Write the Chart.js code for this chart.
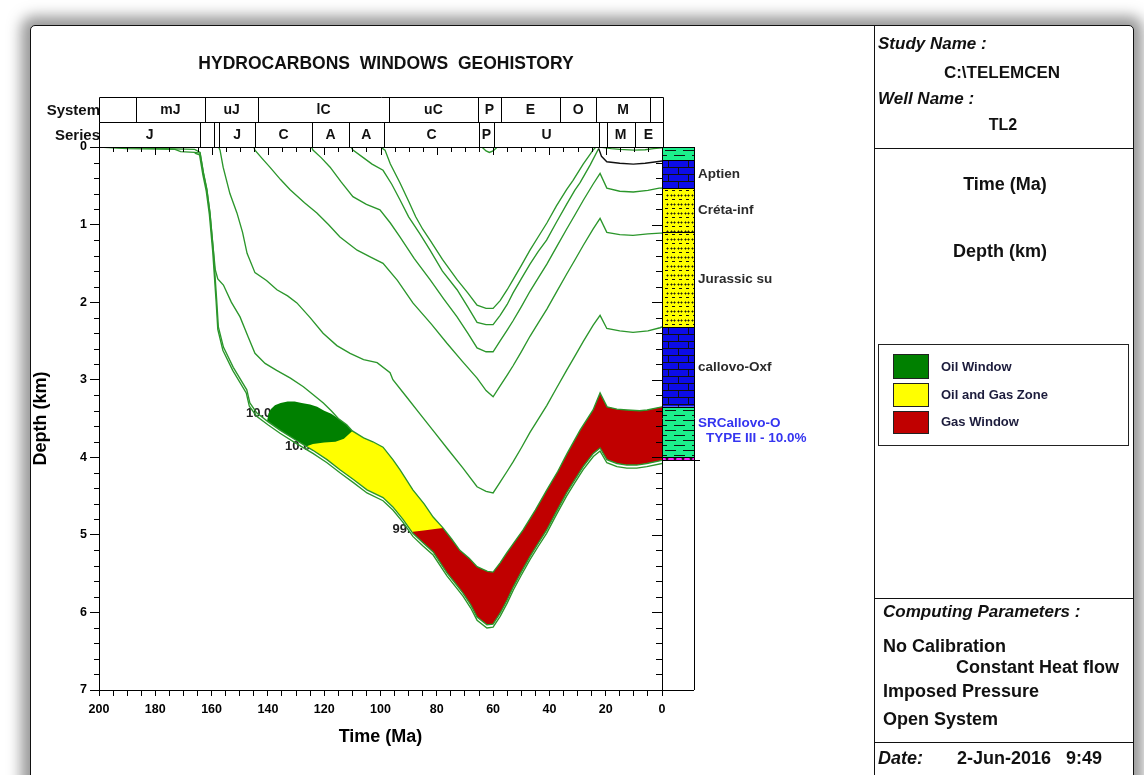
<!DOCTYPE html>
<html>
<head>
<meta charset="utf-8">
<title>Hydrocarbons windows geohistory - TL2</title>
<script src="https://cdn.jsdelivr.net/npm/chart.js@4.4.1/dist/chart.umd.min.js"></script>
<style>
  html, body { margin: 0; padding: 0; background: #fff; width: 1144px; height: 775px; overflow: hidden;
               font-family: 'Liberation Sans', Arial, sans-serif; }
  #frame { position: absolute; left: 30px; top: 25px; width: 1102px; height: 780px; border: 1.5px solid #111;
           background: #fff; box-shadow: 0 0 14px 9px rgba(85,85,85,0.6); border-radius: 5px; }
  #c { position: absolute; left: 0; top: 0; }
  .t { position: absolute; white-space: pre; font-weight: bold; color: #111; line-height: 1; transform: translate(0, -50%); }
  .c { transform: translate(-50%, -50%); }
  .i { font-style: italic; }
  .hl { position: absolute; left: 874px; height: 0; border-top: 1.5px solid #111; }
  .sw { position: absolute; left: 893px; width: 34px; border: 1px solid #222; }
</style>
</head>
<body>
<div id="frame"></div>
<canvas id="c" width="1144" height="775"></canvas>

<div class="t c" style="left:386px; top:64px; font-size:17.5px;">HYDROCARBONS  WINDOWS  GEOHISTORY</div>

<!-- side panel -->
<div style="position:absolute; left:874px; top:25px; width:0; height:760px; border-left:1.5px solid #111;"></div>
<div class="hl" style="top:148px; width:259px;"></div>
<div class="hl" style="top:598px; width:259px;"></div>
<div class="hl" style="top:742px; width:259px;"></div>

<div class="t i" style="left:878px; top:43px; font-size:17px;">Study Name :</div>
<div class="t c" style="left:1002px; top:72px; font-size:17px;">C:\TELEMCEN</div>
<div class="t i" style="left:878px; top:98px; font-size:17px;">Well Name :</div>
<div class="t c" style="left:1003px; top:125px; font-size:16px;">TL2</div>

<div class="t c" style="left:1005px; top:184px; font-size:18px;">Time (Ma)</div>
<div class="t c" style="left:1000px; top:251px; font-size:18px;">Depth (km)</div>

<div style="position:absolute; left:878px; top:344px; width:249px; height:100px; border:1.5px solid #222;"></div>
<div class="sw" style="top:354px; height:23px; background:#008000;"></div>
<div class="sw" style="top:383px; height:22px; background:#ffff00;"></div>
<div class="sw" style="top:411px; height:21px; background:#c00000;"></div>
<div class="t" style="left:941px; top:366px; font-size:13px; color:#1c1c3c;">Oil Window</div>
<div class="t" style="left:941px; top:394px; font-size:13px; color:#1c1c3c;">Oil and Gas Zone</div>
<div class="t" style="left:941px; top:421px; font-size:13px; color:#1c1c3c;">Gas Window</div>

<div class="t i" style="left:883px; top:611px; font-size:17px;">Computing Parameters :</div>
<div class="t" style="left:883px; top:646px; font-size:18px;">No Calibration</div>
<div class="t" style="left:956px; top:667px; font-size:18px;">Constant Heat flow</div>
<div class="t" style="left:883px; top:691px; font-size:18px;">Imposed Pressure</div>
<div class="t" style="left:883px; top:719px; font-size:18px;">Open System</div>
<div class="t i" style="left:878px; top:758px; font-size:18px;">Date:</div>
<div class="t" style="left:957px; top:758px; font-size:18px;">2-Jun-2016   9:49</div>

<script>
// ---- Stratigraphic chart above the plot (ages in Ma) ----
const systemBounds = [200, 187, 162.3, 143.5, 97, 65.4, 57.2, 36.2, 23.4, 4.3, 0];
const systemNames  = ['', 'mJ', 'uJ', 'lC', 'uC', 'P', 'E', 'O', 'M', ''];
const seriesBounds = [200, 164.1, 159.3, 157.2, 144.6, 124.3, 111.2, 98.8, 65.0, 59.7, 22.4, 19.7, 9.7, 0];
const seriesNames  = ['J', '', '', 'J', 'C', 'A', 'A', 'C', 'P', 'U', '', 'M', 'E'];

// ---- Present-day lithology column (depth in km) ----
const lithoTops   = [0, 0.17, 0.53, 1.10, 2.32, 3.35, 4.00];
const lithoBases  = [0.17, 0.53, 1.10, 2.32, 3.35, 4.00, 4.04];
const lithoTypes  = ['shale', 'limestone', 'sandshale', 'sandshale', 'limestone', 'shale', 'marl'];
const lithoNames  = ['', 'Aptien', 'Créta-inf', 'Jurassic su', 'callovo-Oxf', 'SRCallovo-O', ''];
const sourceRockNote = 'TYPE III - 10.0%';

// ---- Burial curves: [age Ma, depth km] ----
const surfaceLine = [[200,0],[64,0],[62.5,0.05],[61.3,0.07],[60,0.05],[58.5,0],[22,0],[18,0.02],[15,0.03],[10,0.04],[6,0.035],[3,0.02],[0,0.01]];

const horizonAlbianTop = [[100,0],[98.4,0.04],[96.5,0.22],[93.1,0.46],[90,0.70],[87.5,0.90],[85,1.06],[82.4,1.20],
  [78,1.45],[72.8,1.71],[69,1.88],[65.7,2.04],[62.5,2.08],[60,2.08],[57.5,1.98],[55,1.84],[52.9,1.71],[50,1.53],
  [46.9,1.33],[44,1.16],[40.9,0.98],[37.5,0.76],[33.9,0.55],[31.6,0.43],[28,0.22],[24.5,0.04],[23.5,0]];

const horizonAptienTop = [[110.5,0],[109.8,0.04],[106,0.14],[103,0.22],[99.1,0.30],[96,0.48],[93.1,0.68],[90,0.90],
  [86,1.12],[82.4,1.33],[78,1.60],[72.8,1.84],[69,2.06],[65.7,2.26],[62.5,2.29],[60,2.29],[57.5,2.17],[55,2.03],
  [52.9,1.88],[50,1.70],[46.9,1.51],[44,1.35],[41,1.20],[37.5,0.97],[33.9,0.74],[31,0.56],[29.1,0.46],[25.5,0.23],
  [22.5,0.02],[21.5,0.12],[19.6,0.19],[15,0.21],[10.2,0.22],[6,0.21],[1.9,0.19],[0,0.18]];
const erosionAge = 22.5;

const horizonCretaInfTop = [[124.5,0],[124,0.04],[121,0.14],[117.9,0.26],[114,0.45],[109.8,0.64],[105,0.74],
  [100.2,0.81],[96.5,0.98],[93.1,1.16],[88,1.44],[82.4,1.71],[77.5,1.96],[72.8,2.19],[69,2.40],[65.7,2.59],
  [62.5,2.64],[60,2.64],[57.5,2.50],[55,2.36],[52.9,2.24],[50,2.06],[46.9,1.86],[44,1.69],[40.9,1.51],[37.5,1.29],
  [33.9,1.06],[31,0.88],[28,0.69],[24.5,0.48],[22,0.34],[19.6,0.53],[15,0.57],[10.2,0.58],[5,0.56],[1,0.53],[0,0.53]];

const horizonJurassicSuTop = [[145,0],[144.6,0.04],[142,0.15],[139.3,0.26],[135.5,0.42],[132.1,0.55],[127,0.72],
  [122.6,0.85],[118.5,1.00],[114.4,1.16],[108.3,1.33],[103.5,1.42],[99.1,1.50],[94,1.72],[88.5,2.01],[82,2.28],
  [76.4,2.53],[71,2.76],[65.7,2.98],[62.5,3.14],[60,3.22],[57.5,3.08],[55,2.94],[52.9,2.82],[50,2.64],[46.9,2.44],
  [44,2.27],[40.9,2.09],[37.5,1.87],[33.9,1.64],[31,1.46],[28,1.27],[24.5,1.06],[22,0.92],[19.6,1.10],[15,1.13],
  [10.3,1.14],[5,1.12],[0.7,1.11],[0,1.11]];

const horizonCallovoOxfTop = [[157.5,0],[157,0.04],[155.9,0.26],[153.5,0.60],[151,0.85],[149,1.10],[147.4,1.37],
  [144.6,1.62],[140.5,1.72],[136.8,1.84],[133,1.92],[129.7,2.01],[125,2.20],[120.4,2.40],[115.5,2.56],[110.8,2.66],
  [106,2.74],[101.2,2.78],[96.6,2.91],[95.6,3.00],[91,3.21],[86,3.44],[81,3.67],[76,3.90],[70.7,4.14],[65.7,4.38],
  [62.5,4.44],[60,4.46],[57.5,4.32],[55,4.18],[52.9,4.06],[50,3.88],[46.9,3.68],[44,3.51],[40.9,3.33],[37.5,3.11],
  [33.9,2.88],[31,2.70],[28,2.51],[24.5,2.30],[22,2.17],[19.6,2.34],[15,2.37],[10.3,2.39],[5,2.37],[0.7,2.33],[0,2.32]];

const horizonSourceRockTop = [[200,0],[166,0.03],[164.1,0.07],[162.9,0.33],[161.7,0.54],[160.6,0.84],[159.4,1.32],
  [158.7,1.58],[157.8,1.70],[155.8,1.78],[153,2.00],[149.9,2.19],[147,2.45],[144.6,2.66],[141,2.79],[136.9,2.88],
  [132,2.98],[127.4,3.09],[124,3.19],[120.3,3.30],[117.5,3.40],[115,3.50],[112,3.58],[110,3.66],[106,3.75],
  [102.7,3.80],[99.1,3.87],[95.6,4.03],[93.1,4.16],[88.5,4.42],[84.5,4.60],[81.3,4.77],[77.8,4.91],[74.8,5.05],
  [71.8,5.20],[68.5,5.30],[65.7,5.41],[62,5.47],[60,5.48],[57.5,5.36],[55.1,5.23],[52,5.07],[49.4,4.94],[45,4.68],
  [40.9,4.42],[37,4.18],[33.7,3.95],[29.1,3.65],[24.5,3.39],[22,3.17],[19.5,3.35],[16,3.38],[12.4,3.39],[8,3.40],
  [5.3,3.39],[0,3.35]];

const horizonSourceRockBase = [[200,0],[190,0.02],[173,0.03],[171,0.06],[166,0.07],[164.1,0.08],[162.9,0.34],
  [161.7,0.55],[160.6,0.85],[159.4,1.33],[158.2,1.97],[157.6,2.32],[155.8,2.58],[152.3,2.84],[147.5,3.13],
  [146.4,3.30],[143.9,3.43],[140,3.54],[135.7,3.65],[130,3.78],[124,3.91],[119,4.03],[114.4,4.16],[109.5,4.29],
  [104.8,4.42],[99.1,4.52],[95.6,4.64],[92,4.80],[88.5,4.98],[85,5.10],[81.3,5.22],[76.4,5.49],[73.5,5.62],
  [70.7,5.75],[68,5.90],[65.7,6.06],[62.2,6.16],[60,6.15],[57.5,6.01],[55,5.84],[52.8,5.67],[50,5.48],[46.9,5.28],
  [44,5.11],[41,4.94],[37.5,4.70],[33.9,4.46],[31,4.29],[28,4.12],[24.4,3.95],[22,3.88],[19.6,4.03],[16,4.08],
  [12.5,4.10],[9,4.10],[5.4,4.08],[0,4.04]];

const horizonMarlBase = [[166,0.08],[164.3,0.10],[163.1,0.36],[161.9,0.57],[160.8,0.87],[159.6,1.35],[158.4,1.99],
  [157.8,2.35],[156,2.62],[152.5,2.88],[147.7,3.17],[146.6,3.34],[144,3.47],[140,3.58],[135.7,3.69],[130,3.82],
  [124,3.95],[119,4.07],[114.4,4.20],[109.5,4.33],[104.8,4.46],[99.1,4.56],[95.6,4.68],[92,4.84],[88.5,5.02],
  [85,5.14],[81.3,5.26],[76.4,5.53],[73.5,5.66],[70.7,5.79],[68,5.94],[65.7,6.10],[62.2,6.20],[60,6.19],[57.5,6.05],
  [55,5.88],[52.8,5.71],[50,5.52],[46.9,5.32],[44,5.15],[41,4.98],[37.5,4.74],[33.9,4.50],[31,4.33],[28,4.16],
  [24.4,3.99],[22,3.92],[19.6,4.07],[16,4.12],[12.5,4.14],[9,4.14],[5.4,4.12],[0,4.08]];

// ---- Maturity zones of the source rock (upper limits; lower limit is the source-rock base) ----
const oilWindowTop = [[140.3,3.53],[139.8,3.44],[139,3.38],[137.5,3.33],[135.5,3.30],[133,3.28],[130.5,3.28],
  [128,3.30],[125,3.32],[122.5,3.35],[120,3.40],[117.5,3.44],[115,3.50],[112,3.58],[110,3.66],[109,3.68]];
const oilGasZoneTop = [[126.5,3.86],[124,3.83],[120,3.81],[116,3.80],[113,3.76],[110,3.66],[106,3.75],[102.7,3.80],
  [99.1,3.87],[95.6,4.03],[93.1,4.16],[88.5,4.42],[84.5,4.60],[81.3,4.77],[77.8,4.91]];
const gasWindowTop = [[88.5,4.96],[84,4.94],[80,4.92],[77.8,4.91],[74.8,5.05],[71.8,5.20],[68.5,5.30],[65.7,5.41],
  [62,5.47],[60,5.48],[57.5,5.36],[55.1,5.23],[52,5.07],[49.4,4.94],[45,4.68],[40.9,4.42],[37,4.18],[33.7,3.95],
  [29.1,3.65],[24.5,3.39],[22,3.17],[19.5,3.35],[16,3.38],[12.4,3.39],[8,3.40],[5.3,3.39],[0,3.35]];

// Transformation-ratio contour labels (%)
const trLabels = ['10.0', '10.0', '99.0'];
const trAges   = [143.3, 129.4, 91.2];
const trDepths = [3.43, 3.86, 4.93];

// ---- helpers ----
const toXY = arr => arr.map(([x, y]) => ({x, y}));
const LINE_GREEN = '#2b962b';
const FONT = "'Liberation Sans', Arial, sans-serif";

function horizon(label, arr, extra) {
  return Object.assign({
    label, data: toXY(arr), borderColor: LINE_GREEN, borderWidth: 1.35, pointRadius: 0,
    tension: 0, fill: false, order: 0
  }, extra || {});
}
function zone(label, arr, color) {
  return {
    label, data: toXY(arr), borderColor: 'rgba(0,0,0,0)', borderWidth: 0, pointRadius: 0,
    tension: 0, backgroundColor: color, fill: {target: 0}, order: 1
  };
}

// lithology patterns
function fillLitho(ctx, type, x0, y0, w, h) {
  const colors = {shale: '#1cee8c', limestone: '#0c0ce8', sandshale: '#ffff00', marl: '#ff22ff'};
  ctx.save();
  ctx.beginPath(); ctx.rect(x0, y0, w, h); ctx.clip();
  ctx.fillStyle = colors[type];
  ctx.fillRect(x0, y0, w, h);
  ctx.strokeStyle = '#111'; ctx.fillStyle = '#222'; ctx.lineWidth = 1;
  ctx.beginPath();
  if (type === 'shale') {
    let r = 0;
    for (let yy = y0 + 3; yy < y0 + h - 1; yy += 5, r++) {
      const off = (r % 2) * 9;
      const py = Math.round(yy) + 0.5;
      for (let xx = x0 - 18 + off; xx < x0 + w; xx += 18) { ctx.moveTo(xx + 2, py); ctx.lineTo(xx + 13, py); }
    }
  } else if (type === 'limestone') {
    let r = 0;
    for (let yy = y0; yy < y0 + h; yy += 7, r++) {
      const py = Math.round(yy) + 0.5;
      ctx.moveTo(x0, py); ctx.lineTo(x0 + w, py);
      const off = (r % 2) * 10;
      for (let xx = x0 + 5 + off; xx < x0 + w; xx += 20) {
        const px = Math.round(xx) + 0.5;
        ctx.moveTo(px, py); ctx.lineTo(px, py + 7);
      }
    }
  } else if (type === 'sandshale') {
    let r = 0;
    for (let yy = y0 + 2; yy < y0 + h; yy += 4.5, r++) {
      const py = Math.round(yy) + 0.5;
      if (r % 2 === 0) {
        for (let xx = x0 + 2; xx < x0 + w; xx += 7) { ctx.moveTo(xx, py); ctx.lineTo(xx + 3, py); }
      } else {
        for (let xx = x0 + 4; xx < x0 + w; xx += 3.5) ctx.rect(Math.round(xx), Math.round(yy), 1, 1);
      }
    }
  } else {
    for (let xx = x0 + 3; xx < x0 + w; xx += 8) ctx.rect(xx, y0 + h / 2 - 0.5, 2, 1);
  }
  ctx.stroke();
  ctx.restore();
}

const decor = {
  id: 'decor',
  beforeDraw(chart) {
    const {ctx, scales: {x, y}} = chart;
    ctx.save();
    ctx.font = 'bold 13px ' + FONT;
    ctx.fillStyle = '#222';
    ctx.textAlign = 'center'; ctx.textBaseline = 'middle';
    trLabels.forEach((t, i) => ctx.fillText(t, x.getPixelForValue(trAges[i]), y.getPixelForValue(trDepths[i])));
    ctx.restore();
  },
  afterDraw(chart) {
    const {ctx, chartArea: a, scales: {x, y}} = chart;
    const L = (x1, y1, x2, y2) => { ctx.moveTo(x1, y1); ctx.lineTo(x2, y2); };
    const P = v => Math.round(v) + 0.5;
    ctx.save();
    ctx.strokeStyle = '#000'; ctx.lineWidth = 1;

    // frame top / right, inward ticks, left minor ticks
    ctx.beginPath();
    L(a.left, P(a.top), a.right + 1, P(a.top));
    L(P(a.right), a.top, P(a.right), a.bottom);
    for (let m = 0; m <= 200; m += 5) {
      const X = P(x.getPixelForValue(m));
      L(X, a.top, X, a.top + (m % 20 === 0 ? 8 : 5));
    }
    for (let k = 0; k <= 35; k++) {
      const Y = P(y.getPixelForValue(k / 5));
      const major = k % 5 === 0;
      L(a.right - (major ? 10 : 6), Y, a.right, Y);
      if (!major) L(a.left - 5, Y, a.left, Y);
    }
    ctx.stroke();

    // stratigraphic chart (two rows above the plot)
    const rowH = 25;
    const rows = [[systemBounds, systemNames, a.top - 2 * rowH, 'System'], [seriesBounds, seriesNames, a.top - rowH, 'Series']];
    ctx.fillStyle = '#111';
    ctx.textBaseline = 'middle';
    rows.forEach(([b, n, top, title]) => {
      const x0 = x.getPixelForValue(b[0]), x1 = x.getPixelForValue(b[b.length - 1]);
      ctx.beginPath();
      ctx.rect(P(x0), P(top), Math.round(x1 - x0) + 1, rowH);
      for (let i = 1; i < b.length - 1; i++) { const X = P(x.getPixelForValue(b[i])); L(X, top, X, top + rowH); }
      ctx.stroke();
      ctx.textAlign = 'center';
      ctx.font = 'bold 14px ' + FONT;
      n.forEach((s, i) => { if (s) ctx.fillText(s, (x.getPixelForValue(b[i]) + x.getPixelForValue(b[i + 1])) / 2, top + rowH / 2 + 1); });
      ctx.textAlign = 'right';
      ctx.font = 'bold 15px ' + FONT;
      ctx.fillText(title, x0 + 1, top + rowH / 2 + 1);
    });

    // lithology column at present day
    const cx = a.right + 1, cw = 31;
    lithoTypes.forEach((t, i) => {
      const y0 = y.getPixelForValue(lithoTops[i]), y1 = y.getPixelForValue(lithoBases[i]);
      fillLitho(ctx, t, cx, y0, cw, y1 - y0);
    });
    const colBottom = P(y.getPixelForValue(lithoBases[lithoBases.length - 1]));
    ctx.beginPath();
    lithoTops.forEach(d => { const Y = P(y.getPixelForValue(d)); L(cx, Y, cx + cw, Y); });
    L(a.right, colBottom, cx + cw + 6, colBottom);
    L(P(cx + cw), a.top, P(cx + cw), a.bottom);
    L(a.right, P(a.bottom), cx + cw, P(a.bottom));
    ctx.stroke();

    ctx.textAlign = 'left'; ctx.textBaseline = 'middle';
    ctx.font = 'bold 13.5px ' + FONT;
    lithoNames.forEach((s, i) => {
      if (!s) return;
      const mid = (y.getPixelForValue(lithoTops[i]) + y.getPixelForValue(lithoBases[i])) / 2;
      if (lithoTypes[i] === 'shale') {
        ctx.fillStyle = '#3535f0';
        ctx.fillText(s, cx + cw + 4, mid - 9);
        ctx.fillText(sourceRockNote, cx + cw + 12, mid + 6);
      } else {
        ctx.fillStyle = '#2b2b2b';
        ctx.fillText(s, cx + cw + 4, mid);
      }
    });
    ctx.restore();
  }
};

const datasets = [
  horizon('Source rock base', horizonSourceRockBase),
  horizon('Marl base', horizonMarlBase),
  horizon('Source rock top', horizonSourceRockTop),
  horizon('callovo-Oxf top', horizonCallovoOxfTop),
  horizon('Jurassic su top', horizonJurassicSuTop),
  horizon('Créta-inf top', horizonCretaInfTop),
  horizon('Aptien top', horizonAptienTop, {segment: {borderColor: c => (c.p0.parsed.x <= erosionAge ? '#111' : undefined)}}),
  horizon('Albian top', horizonAlbianTop),
  horizon('Surface', surfaceLine),
  zone('Gas Window', gasWindowTop, '#c00000'),
  zone('Oil and Gas Zone', oilGasZoneTop, '#ffff00'),
  zone('Oil Window', oilWindowTop, '#008000')
];

const isWhole = v => Math.abs(v - Math.round(v)) < 1e-6;

new Chart(document.getElementById('c'), {
  type: 'line',
  data: {datasets},
  options: {
    responsive: false,
    animation: false,
    events: [],
    layout: {padding: {left: 26, top: 147, right: 482, bottom: 23}},
    plugins: {legend: {display: false}, tooltip: {enabled: false}},
    scales: {
      x: {
        type: 'linear', position: 'bottom', min: 0, max: 200, reverse: true,
        ticks: {stepSize: 5, autoSkip: false, maxRotation: 0, padding: 6, color: '#000',
                font: {family: FONT, size: 12.5, weight: 'bold'},
                callback: v => (v % 20 === 0 ? String(v) : '')},
        grid: {drawOnChartArea: false, tickLength: 6, tickColor: '#000', tickWidth: 1},
        border: {color: '#000', width: 1},
        title: {display: true, text: 'Time (Ma)', color: '#000', font: {family: FONT, size: 18, weight: 'bold'},
                padding: {top: 0, bottom: 4}},
        afterFit: s => { s.height = 62; }
      },
      y: {
        type: 'linear', position: 'left', min: 0, max: 7, reverse: true,
        ticks: {stepSize: 0.2, autoSkip: false, padding: 3, color: '#000',
                font: {family: FONT, size: 12.5, weight: 'bold'},
                callback: v => (isWhole(v) ? String(Math.round(v)) : '')},
        grid: {drawOnChartArea: false, tickLength: 9, tickWidth: 1,
               tickColor: c => (c.tick && isWhole(c.tick.value) ? '#000' : 'rgba(0,0,0,0)')},
        border: {color: '#000', width: 1},
        title: {display: true, text: 'Depth (km)', color: '#000', font: {family: FONT, size: 18, weight: 'bold'},
                padding: {top: 4, bottom: 0}},
        afterFit: s => { s.width = 73; }
      }
    }
  },
  plugins: [decor]
});
</script>
</body>
</html>
